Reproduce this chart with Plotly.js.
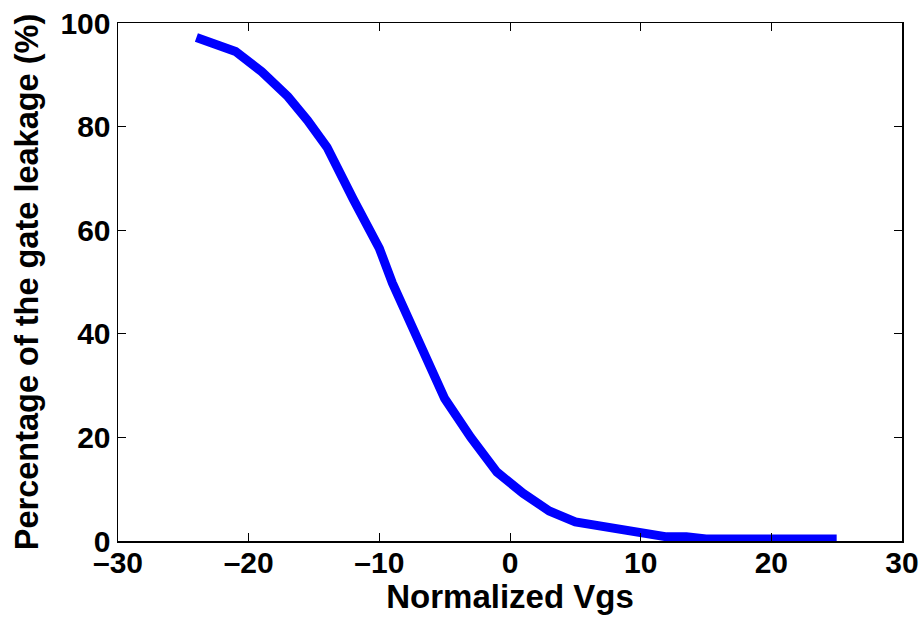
<!DOCTYPE html>
<html>
<head>
<meta charset="utf-8">
<script src="https://cdn.plot.ly/plotly-3.0.1.min.js"></script>
<style>html,body{margin:0;padding:0;background:#fff;}#chart{width:920px;height:617px;}</style>
</head>
<body>
<div id="chart"></div>
<script>
const vgs = [-24, -22, -21, -19, -17, -15.5, -14, -12, -10, -9, -7, -5, -3, -1, 1, 3, 5, 6, 7, 9, 10, 11, 12, 13.5, 15, 20, 25];
const leakagePct = [97.2, 95.7, 94.5, 90.6, 85.8, 81.2, 76, 66, 56.5, 49.8, 38.5, 27.5, 20, 13.3, 9.2, 5.8, 3.7, 3.3, 2.5, 1.7, 1.3, 1.2, 0.8, 0.8, 0.4, 0.4, 0.4];
const xTicks = [-30, -20, -10, 0, 10, 20, 30];
const yTicks = [0, 20, 40, 60, 80, 100];

const fam = 'Liberation Sans, Arial, sans-serif';
const axisCommon = {
  showline: true, mirror: 'ticks', linecolor: '#000', linewidth: 1.5,
  ticks: 'inside', ticklen: 8, tickwidth: 1, tickcolor: '#000',
  showgrid: false, zeroline: false,
  tickfont: {family: fam, size: 30, color: '#000', weight: 'bold'}
};
Plotly.newPlot('chart', [{
  x: vgs, y: leakagePct, type: 'scatter', mode: 'lines',
  line: {color: '#0000ff', width: 9}
}], {
  width: 920, height: 617,
  margin: {l: 118, r: 18, t: 23, b: 76},
  paper_bgcolor: '#fff', plot_bgcolor: '#fff',
  showlegend: false,
  font: {family: fam, size: 30, color: '#000'},
  xaxis: Object.assign({}, axisCommon, {
    range: [-30, 30], tickvals: xTicks, ticktext: xTicks.map(v => v < 0 ? '\u2013' + Math.abs(v) : String(v)),
    ticklabelstandoff: -6,
    title: {text: '<b>Normalized Vgs</b>', font: {family: fam, size: 33, color: '#000'}, standoff: 1}
  }),
  yaxis: Object.assign({}, axisCommon, {
    range: [0, 100], tickvals: yTicks, ticktext: yTicks.map(String),
    ticklabelstandoff: 0,
    title: {text: '<b>Percentage of the gate leakage (%)</b>', font: {family: fam, size: 32.5, color: '#000'}, standoff: 12}
  })
}, {displayModeBar: false, staticPlot: true});
</script>
</body>
</html>
